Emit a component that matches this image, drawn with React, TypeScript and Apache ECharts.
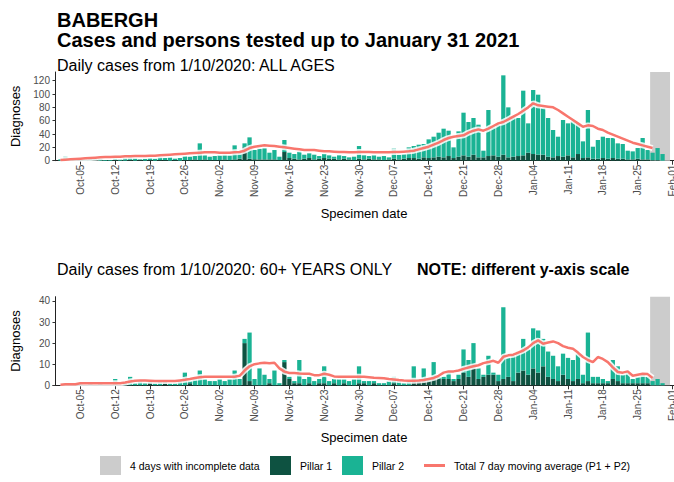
import React, { useEffect, useRef } from "react";
import * as echarts from "echarts";

const FONT = "'Liberation Sans', Arial, Helvetica, sans-serif";
const MONTH_NAMES = ["Jan", "Feb", "Mar", "Apr", "May", "Jun", "Jul", "Aug", "Sep", "Oct", "Nov", "Dec"];

// weekly tick labels on the date axis
const weekTicks = [
  "Oct-05", "Oct-12", "Oct-19", "Oct-26", "Nov-02", "Nov-09", "Nov-16", "Nov-23", "Nov-30",
  "Dec-07", "Dec-14", "Dec-21", "Dec-28", "Jan-04", "Jan-11", "Jan-18", "Jan-25", "Feb-01",
];
const incompleteDays = ["Jan-28", "Jan-29", "Jan-30", "Jan-31"];
const yTicksAll = [0, 20, 40, 60, 80, 100, 120];
const yTicksOver60 = [0, 10, 20, 30, 40];

// ALL AGES, daily values 1 Oct 2020 .. 31 Jan 2021
const allPillar1 = [
  0, 0, 0, 0, 1, 0, 0, 1, 0, 0, 0, 1, 0, 0, 1, 0, 1, 0, 1, 0, 1, 1, 0, 1, 0, 1, 1, 2, 1, 2, 1,
  1, 1, 2, 1, 2, 3, 20, 3, 2, 2, 2, 2, 2, 1, 13, 4, 3, 2, 3, 4, 2, 3, 4, 3, 3, 2, 3, 2, 1, 3,
  2, 3, 2, 2, 1, 2, 3, 2, 3, 4, 4, 3, 5, 4, 5, 6, 5, 7, 4, 6, 8, 6, 9, 5, 5, 7, 8, 6, 9, 5, 6,
  7, 8, 12, 10, 9, 9, 6, 5, 7, 6, 8, 5, 10, 4, 5, 3, 3, 4, 3, 4, 3, 3, 2, 2, 3, 2, 2, 1, 1, 0, 0,
];
const allPillar2 = [
  2, 6, 1, 1, 2, 2, 3, 1, 3, 1, 1, 2, 2, 4, 4, 4, 1, 3, 3, 3, 4, 3, 5, 2, 4, 6, 5, 5, 25, 6, 5,
  6, 7, 7, 7, 21, 9, 6, 32, 14, 16, 17, 10, 14, 5, 18, 8, 7, 12, 6, 7, 7, 4, 6, 5, 3, 6, 4, 3, 5, 19,
  6, 4, 6, 4, 6, 3, 15, 7, 7, 16, 18, 21, 20, 28, 31, 36, 43, 38, 16, 38, 64, 52, 55, 49, 10, 69, 42, 48, 119, 75, 60,
  57, 97, 44, 96, 90, 70, 58, 41, 29, 55, 48, 54, 46, 25, 71, 18, 28, 32, 31, 30, 23, 22, 13, 12, 16, 32, 14, 11, 18, 10, 0,
];
const allAverage = [
  1, 1.5, 2, 2.5, 3, 3.5, 4, 4.5, 5, 5.5, 5.5, 6, 6, 6.5, 6.5, 7, 7, 7, 7.5, 7.5, 8, 8.5, 9, 9.5, 10, 10.5, 11, 11.5, 12, 12.5, 12.5,
  12.5, 12, 12, 12, 12.5, 13, 15, 19, 21, 22, 23, 22.5, 22, 21, 20, 19, 18, 17, 16, 16, 16, 15, 14, 14, 13.5, 13, 13, 12.5, 12.5, 13,
  13, 13, 12.5, 12.5, 12.5, 12.5, 13, 13, 13.5, 14, 15, 17, 19, 21, 24, 27, 31, 34, 36, 37, 38, 42, 45, 47, 45, 48, 52, 56, 58, 62, 66,
  70, 75, 80, 86, 83, 82, 81, 80, 76, 71, 66, 61, 56, 51, 53, 52, 48, 46, 42, 39, 36, 33, 30, 27, 25, 23, 21, 19, null, null, null,
];

// 60+ YEARS ONLY
const over60Pillar1 = [
  0, 0, 0, 0, 0, 0, 0, 0, 0, 0, 0, 0, 0, 0, 0, 0, 0, 0, 1, 0, 0, 1, 0, 0, 0, 0, 1, 0, 0, 0, 0,
  0, 0, 0, 0, 0, 0, 20, 2, 0, 0, 0, 1, 0, 0, 11, 3, 1, 1, 0, 1, 0, 1, 1, 0, 1, 0, 1, 0, 0, 1,
  1, 0, 1, 0, 0, 0, 1, 0, 0, 0, 2, 2, 3, 2, 3, 3, 3, 3, 2, 3, 6, 4, 8, 3, 4, 5, 5, 2, 3, 4, 2,
  6, 7, 5, 8, 6, 9, 4, 3, 2, 5, 3, 2, 3, 1, 2, 1, 1, 1, 1, 3, 2, 1, 1, 1, 1, 1, 1, 0, 0, 0, 0,
];
const over60Pillar2 = [
  0, 1, 0, 0, 1, 0, 1, 0, 1, 0, 0, 3, 0, 1, 4, 1, 2, 1, 1, 1, 2, 1, 1, 1, 2, 6, 1, 3, 7, 3, 2,
  2, 3, 2, 3, 7, 3, 2, 23, 3, 8, 5, 2, 7, 1, 1, 1, 1, 11, 3, 3, 2, 2, 8, 2, 2, 3, 2, 2, 3, 8,
  1, 2, 1, 1, 1, 2, 3, 3, 1, 2, 7, 1, 5, 1, 8, 1, 1, 3, 1, 2, 11, 8, 12, 5, 1, 9, 1, 3, 34, 9, 12,
  10, 15, 12, 19, 20, 13, 12, 11, 7, 10, 10, 10, 12, 4, 23, 3, 3, 2, 1, 9, 7, 4, 5, 2, 3, 4, 3, 2, 3, 1, 0,
];
const over60Average = [
  0.3, 0.5, 0.5, 0.5, 1, 1, 1, 1, 1, 1, 1, 1, 1, 1.3, 1.8, 2.2, 2.3, 2.3, 2.2, 2, 2, 2, 2, 2, 2.3, 2.6, 3, 3.5, 3.8, 4, 4.1,
  4.1, 4.1, 4.1, 4.1, 4.1, 4.5, 7, 9, 10, 10.4, 10.7, 10.5, 10.7, 8, 6.5, 5.8, 5.8, 5.6, 5.5, 5.5, 4.8, 4.8, 5.5, 5, 4.2, 4, 4, 4, 4, 4,
  4, 3.8, 3.6, 3.5, 3.3, 3, 2.8, 2.5, 2.3, 2.2, 2.2, 2.3, 2.5, 3, 3.5, 4.5, 6, 6.6, 6.6, 7, 7.8, 8.4, 9, 9.5, 10.5, 11, 11.6, 10.7, 13.5, 14.2, 14.5,
  15.5, 16.5, 18, 20, 21.3, 19.7, 20.3, 20.8, 20, 18.6, 17.8, 17.3, 15.5, 13.4, 12, 11, 13.4, 12.5, 11, 8.5, 6.3, 6, 6.6, 4.5, 5, 5.5, 5.3, 3.5, null, null, null,
];

const NAME_INCOMPLETE = "4 days with incomplete data";
const NAME_P1 = "Pillar 1";
const NAME_P2 = "Pillar 2";
const NAME_AVG = "Total 7 day moving average (P1 + P2)";
const COLOR_P1 = "#0E5241";
const COLOR_P2 = "#1AB394";
const COLOR_AVG = "#F8766D";
const COLOR_GREY = "#CCCCCC";

// legend icon for the line: a 3px bar centred in a 21x19 key box
const LINE_KEY_ICON = "path://M0,0h21v0.01h-21z M0,8h21v3h-21z M0,18.99h21v0.01h-21z";

// axis days: Sep-30 .. Feb-01 (one padding day at each end)
function buildDays(): string[] {
  const out: string[] = [];
  const d = new Date(Date.UTC(2020, 8, 30));
  const end = Date.UTC(2021, 1, 1);
  while (d.getTime() <= end) {
    out.push(`${MONTH_NAMES[d.getUTCMonth()]}-${String(d.getUTCDate()).padStart(2, "0")}`);
    d.setUTCDate(d.getUTCDate() + 1);
  }
  return out;
}

const days = buildDays();
const pad = (arr: (number | null)[]) => [null, ...arr, null];
const isWeekTick = (_i: number, value: string) => weekTicks.includes(value);

function buildPanel(
  gridIndex: number,
  p1: number[],
  p2: number[],
  avg: (number | null)[],
  yMax: number,
  yTicks: number[]
) {
  const xMain = gridIndex * 2;
  const xHidden = gridIndex * 2 + 1;
  const bandStart = days.indexOf(incompleteDays[0]) - 0.5;
  const bandEnd = days.indexOf(incompleteDays[incompleteDays.length - 1]) + 0.5;

  const xAxes = [
    {
      type: "category",
      gridIndex,
      data: days,
      boundaryGap: true,
      axisLine: { show: true, onZero: false, lineStyle: { color: "#222", width: 1 } },
      axisTick: { show: true, alignWithLabel: true, interval: isWeekTick, length: 4, lineStyle: { color: "#333", width: 1 } },
      axisLabel: { show: true, interval: isWeekTick, rotate: 90, margin: 4, fontSize: 10, color: "#4D4D4D", fontFamily: FONT },
      splitLine: { show: false },
      name: "Specimen date",
      nameLocation: "middle",
      nameGap: 46,
      nameTextStyle: { fontSize: 13, color: "#000", fontFamily: FONT },
    },
    { type: "value", gridIndex, min: -0.5, max: days.length - 0.5, show: false },
  ];

  const yAxis = {
    type: "value",
    gridIndex,
    min: 0,
    max: yMax,
    interval: yTicks[1] - yTicks[0],
    axisLine: { show: true, lineStyle: { color: "#222", width: 1 } },
    axisTick: { show: true, length: 3, customValues: yTicks, lineStyle: { color: "#333" } },
    axisLabel: { show: true, customValues: yTicks, fontSize: 10, color: "#4D4D4D", margin: 3, fontFamily: FONT },
    splitLine: { show: false },
    name: "Diagnoses",
    nameLocation: "middle",
    nameRotate: 90,
    nameGap: 31,
    nameTextStyle: { fontSize: 13, color: "#000", fontFamily: FONT },
  };

  const series = [
    {
      name: NAME_INCOMPLETE,
      type: "bar",
      xAxisIndex: xHidden,
      yAxisIndex: gridIndex,
      data: [],
      itemStyle: { color: COLOR_GREY },
      z: 1,
      markArea: {
        silent: true,
        itemStyle: { color: COLOR_GREY, opacity: 1 },
        data: [[{ xAxis: bandStart }, { xAxis: bandEnd }]],
      },
    },
    {
      name: NAME_P1,
      type: "bar",
      stack: "pillars" + gridIndex,
      xAxisIndex: xMain,
      yAxisIndex: gridIndex,
      data: pad(p1),
      barCategoryGap: "14%",
      itemStyle: { color: COLOR_P1 },
      z: 2,
    },
    {
      name: NAME_P2,
      type: "bar",
      stack: "pillars" + gridIndex,
      xAxisIndex: xMain,
      yAxisIndex: gridIndex,
      data: pad(p2),
      barCategoryGap: "14%",
      itemStyle: { color: COLOR_P2 },
      z: 2,
    },
    {
      name: "halo",
      type: "line",
      xAxisIndex: xMain,
      yAxisIndex: gridIndex,
      data: pad(avg),
      symbol: "none",
      silent: true,
      lineStyle: { color: "rgba(255,255,255,0.85)", width: 6 },
      z: 3,
    },
    {
      name: NAME_AVG,
      type: "line",
      xAxisIndex: xMain,
      yAxisIndex: gridIndex,
      data: pad(avg),
      symbol: "none",
      lineStyle: { color: COLOR_AVG, width: 2.5 },
      itemStyle: { color: COLOR_AVG },
      z: 4,
    },
  ];
  return { xAxes, yAxis, series };
}

function legendItem(name: string, left: number, icon: string) {
  return {
    data: [{ name, icon }],
    left,
    top: 456,
    itemWidth: 21,
    itemHeight: 19,
    selectedMode: false,
    padding: 0,
    textStyle: { fontSize: 10.5, color: "#000", fontFamily: FONT, padding: [0, 0, 0, 4] },
  };
}

export default function App() {
  const ref = useRef<HTMLDivElement>(null);

  useEffect(() => {
    if (!ref.current) return;
    const chart = echarts.init(ref.current, null, { renderer: "svg" });
    const top = buildPanel(0, allPillar1, allPillar2, allAverage, 133, yTicksAll);
    const bottom = buildPanel(1, over60Pillar1, over60Pillar2, over60Average, 42, yTicksOver60);

    chart.setOption({
      animation: false,
      backgroundColor: "#ffffff",
      textStyle: { fontFamily: FONT },
      grid: [
        { left: 53, top: 72, width: 622, height: 88.7, outerBoundsMode: "none", containLabel: false },
        { left: 53, top: 296.7, width: 622, height: 88.6, outerBoundsMode: "none", containLabel: false },
      ],
      xAxis: [...top.xAxes, ...bottom.xAxes],
      yAxis: [top.yAxis, bottom.yAxis],
      legend: [
        legendItem(NAME_INCOMPLETE, 100, "rect"),
        legendItem(NAME_P1, 270, "rect"),
        legendItem(NAME_P2, 342, "rect"),
        legendItem(NAME_AVG, 424, LINE_KEY_ICON),
      ],
      graphic: [
        {
          type: "text",
          left: 57,
          top: 10,
          style: {
            text: "BABERGH\nCases and persons tested up to January 31 2021",
            fontSize: 20,
            fontWeight: "bold",
            lineHeight: 20,
            fontFamily: FONT,
            fill: "#000",
          },
        },
        {
          type: "text",
          left: 57,
          top: 57.5,
          style: { text: "Daily cases from 1/10/2020: ALL AGES", fontSize: 16, fontFamily: FONT, fill: "#000" },
        },
        {
          type: "text",
          left: 57,
          top: 261.5,
          style: { text: "Daily cases from 1/10/2020: 60+ YEARS ONLY", fontSize: 16, fontFamily: FONT, fill: "#000" },
        },
        {
          type: "text",
          left: 417,
          top: 261.5,
          style: { text: "NOTE: different y-axis scale", fontSize: 16, fontWeight: "bold", fontFamily: FONT, fill: "#000" },
        },
      ],
      series: [...top.series, ...bottom.series],
    });

    return () => chart.dispose();
  }, []);

  return <div ref={ref} style={{ width: 674, height: 482, position: "absolute", left: 0, top: 0 }} />;
}
